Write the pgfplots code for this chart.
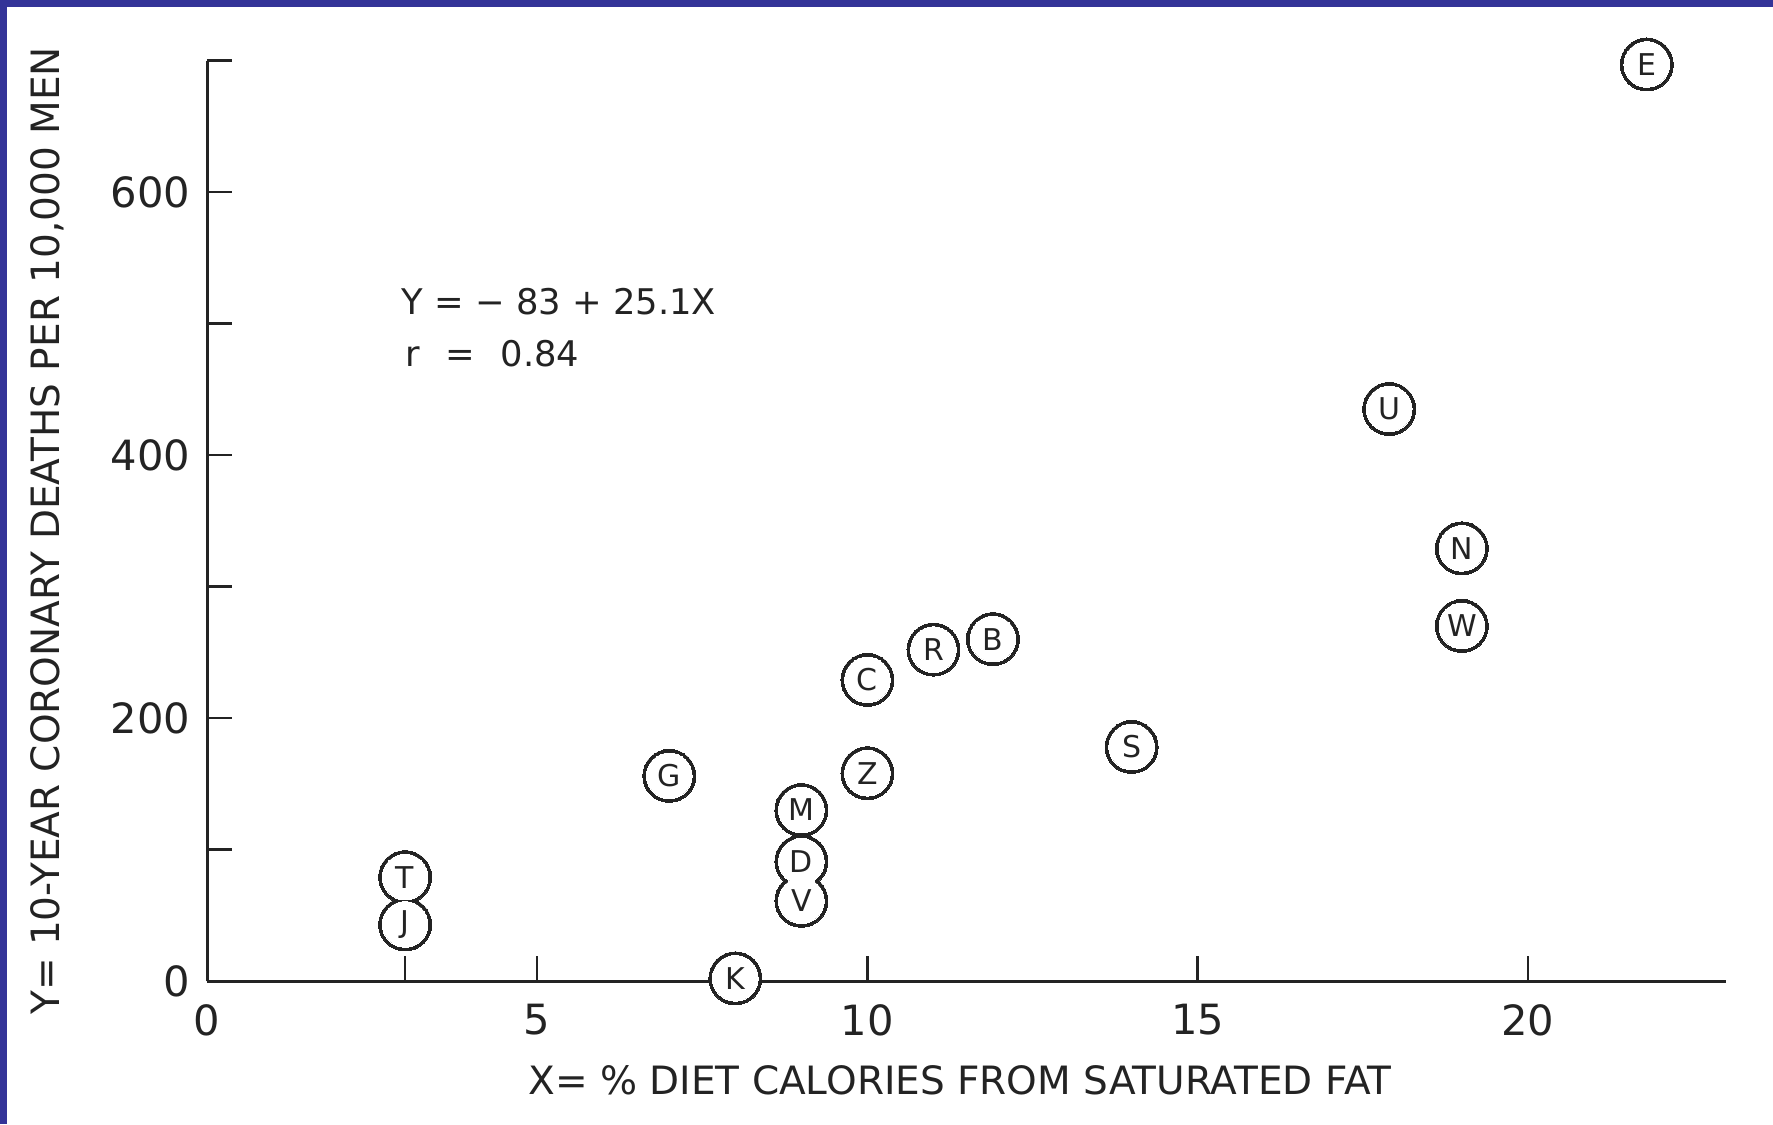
\documentclass[border=0pt]{standalone}
\usepackage{fontspec}
\setmainfont{DejaVu Sans}
\usepackage{pgfplots}
\usepackage{pgfplotstable}
\pgfplotsset{compat=1.18}
\definecolor{borderblue}{RGB}{52,52,152}
\definecolor{ink}{RGB}{35,35,35}

\pgfplotstableread{
x y lab
21.8 697 E
17.9 435 U
19.0 329 N
19.0 270 W
11.9 260 B
11.0 252 R
10.0 229 C
10.0 158 Z
14.0 178 S
7.0 156 G
9.0 130 M
9.0 91 D
9.0 61 V
3.0 79 T
3.0 43 J
8.0 2 K
}\countries

\begin{document}
\begin{tikzpicture}
\useasboundingbox (0,0) rectangle (531.9pt,337.2pt);
\fill[white] (0,0) rectangle (531.9pt,337.2pt);
\fill[borderblue] (0,335.1pt) rectangle (531.9pt,337.2pt);
\fill[borderblue] (0,0) rectangle (2.1pt,337.2pt);
\begin{axis}[
  at={(62.1pt,42.9pt)}, anchor=south west,
  scale only axis, width=455.7pt, height=276.15pt,
  xmin=0, xmax=23, ymin=0, ymax=700,
  axis x line=bottom, axis y line=left,
  axis line style={-, line width=0.9pt, ink},
  tick align=inside,
  major tick length=7.4pt,
  tick style={line width=0.75pt, ink},
  xtick={0,3,5,10,15,20}, xticklabels={0,,5,10,15,20},
  ytick={0,100,...,700}, yticklabels={0,,200,,400,,600,},
  /pgf/number format/assume math mode=true,
  tick label style={font=\fontsize{12.5}{14}\selectfont, text=ink},
  xticklabel style={yshift=-3.5pt},
  yticklabel style={xshift=-1.5pt},
  xlabel={X= \% DIET CALORIES FROM SATURATED FAT},
  ylabel={Y= 10-YEAR CORONARY DEATHS PER 10,000 MEN},
  label style={font=\fontsize{11.7}{14}\selectfont, text=ink},
  xlabel style={at={(axis description cs:0.4957,-0.1075)}, anchor=center},
  ylabel style={at={(axis description cs:-0.1053,0.4889)}, anchor=center},
  clip=false,
]
\addplot[only marks, mark=*, mark size=7.95pt, mark options={line width=0pt, draw=ink, fill=ink}] table[x=x,y=y] {\countries};
\addplot[only marks, mark=*, mark size=6.85pt, mark options={line width=0pt, draw=white, fill=white}] table[x=x,y=y] {\countries};
\addplot[draw=none, mark=none,
  point meta=explicit symbolic,
  nodes near coords={\pgfplotspointmeta},
  every node near coord/.append style={anchor=center, inner sep=0pt, font=\fontsize{9}{10}\selectfont, text=ink}]
  table[x=x,y=y,meta=lab] {\countries};
\node[anchor=west, inner sep=0pt, font=\fontsize{10.6}{12}\selectfont, text=ink] at (axis cs:2.94,517) {Y = − 83 + 25.1X};
\node[anchor=west, inner sep=0pt, font=\fontsize{10.6}{12}\selectfont, text=ink] at (axis cs:3.0,477) {r\hspace{0.72em}=\hspace{0.72em}0.84};
\end{axis}
\end{tikzpicture}
\end{document}
